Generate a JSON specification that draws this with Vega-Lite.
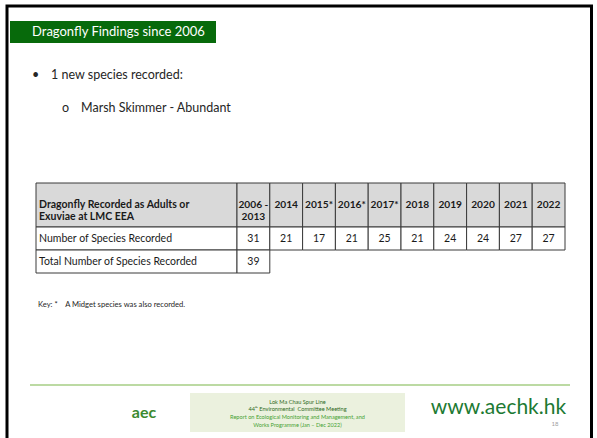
{
  "$schema": "https://vega.github.io/schema/vega-lite/v6.json",
  "width": 597,
  "height": 438,
  "padding": 0,
  "autosize": {"type": "fit", "contains": "padding"},
  "background": "white",
  "config": {"view": {"stroke": null}, "font": "Lato", "text": {"font": "Lato"}},
  "datasets": {
    "slide": [{"part": "slide"}],
    "heading": [{"title": "Dragonfly Findings since 2006"}],
    "bullets": [
      {"level": "1", "marker": "•", "text": "1 new species recorded:"},
      {"level": "2", "marker": "o", "text": "Marsh Skimmer - Abundant"}
    ],
    "corner": [{"heading": "Dragonfly Recorded as Adults or\nExuviae at LMC EEA"}],
    "columns": [
      {"period": "2006 - 2013", "heading": "2006 -\n2013"},
      {"period": "2014", "heading": "2014"},
      {"period": "2015", "heading": "2015*"},
      {"period": "2016", "heading": "2016*"},
      {"period": "2017", "heading": "2017*"},
      {"period": "2018", "heading": "2018"},
      {"period": "2019", "heading": "2019"},
      {"period": "2020", "heading": "2020"},
      {"period": "2021", "heading": "2021"},
      {"period": "2022", "heading": "2022"}
    ],
    "cells": [
      {"metric": "Number of Species Recorded", "period": "2006 - 2013", "count": 31},
      {"metric": "Number of Species Recorded", "period": "2014", "count": 21},
      {"metric": "Number of Species Recorded", "period": "2015", "count": 17},
      {"metric": "Number of Species Recorded", "period": "2016", "count": 21},
      {"metric": "Number of Species Recorded", "period": "2017", "count": 25},
      {"metric": "Number of Species Recorded", "period": "2018", "count": 21},
      {"metric": "Number of Species Recorded", "period": "2019", "count": 24},
      {"metric": "Number of Species Recorded", "period": "2020", "count": 24},
      {"metric": "Number of Species Recorded", "period": "2021", "count": 27},
      {"metric": "Number of Species Recorded", "period": "2022", "count": 27},
      {"metric": "Total Number of Species Recorded", "period": "2006 - 2013", "count": 39}
    ],
    "key": [{"note": "Key: *\u00a0\u00a0\u00a0\u00a0A Midget species was also recorded."}],
    "footer": [
      {"line": "Lok Ma Chau Spur Line", "part": "project"},
      {"line": "44ᵗʰ Environmental\u00a0 Committee Meeting", "part": "project"},
      {"line": "Report on Ecological Monitoring and Management, and", "part": "report"},
      {"line": "Works Programme (Jan – Dec 2022)", "part": "report"}
    ],
    "brand": [{"site": "www.aechk.hk", "page": "18", "logo": "aec"}]
  },
  "layer": [
    {
      "data": {"name": "slide"},
      "mark": {"type": "rect", "fillOpacity": 0, "stroke": "#000000", "strokeWidth": 3},
      "encoding": {
        "x": {"field": "part", "type": "nominal", "axis": null, "scale": {"range": [7, 591.5], "paddingInner": 0, "paddingOuter": 0}},
        "y": {"field": "part", "type": "nominal", "axis": null, "scale": {"range": [6, 480], "paddingInner": 0, "paddingOuter": 0}}
      }
    },
    {
      "data": {"name": "heading"},
      "layer": [
        {
          "mark": {"type": "rect", "fill": "#076a0b"},
          "encoding": {
            "x": {"field": "title", "type": "nominal", "axis": null, "scale": {"range": [10, 216], "paddingInner": 0, "paddingOuter": 0}},
            "y": {"field": "title", "type": "nominal", "axis": null, "scale": {"range": [21, 43], "paddingInner": 0, "paddingOuter": 0}}
          }
        },
        {
          "mark": {"type": "text", "align": "left", "baseline": "middle", "dx": 22, "fontSize": 13, "fill": "#ffffff"},
          "encoding": {
            "x": {"field": "title", "type": "nominal", "axis": null, "bandPosition": 0, "scale": {"range": [10, 216], "paddingInner": 0, "paddingOuter": 0}},
            "y": {"field": "title", "type": "nominal", "axis": null, "bandPosition": 0.5, "scale": {"range": [21, 43], "paddingInner": 0, "paddingOuter": 0}},
            "text": {"field": "title"}
          }
        }
      ]
    },
    {
      "data": {"name": "bullets"},
      "mark": {"type": "text", "align": "left", "baseline": "middle", "fontSize": 12.5, "fill": "#262626"},
      "encoding": {
        "x": {"field": "level", "type": "ordinal", "axis": null, "scale": {"type": "point", "range": [32, 62], "padding": 0}},
        "y": {"field": "level", "type": "ordinal", "axis": null, "scale": {"type": "point", "range": [75, 108], "padding": 0}},
        "text": {"field": "marker"}
      }
    },
    {
      "data": {"name": "bullets"},
      "mark": {"type": "text", "align": "left", "baseline": "middle", "fontSize": 12.5, "fill": "#262626"},
      "encoding": {
        "x": {"field": "level", "type": "ordinal", "axis": null, "scale": {"type": "point", "range": [51, 81], "padding": 0}},
        "y": {"field": "level", "type": "ordinal", "axis": null, "scale": {"type": "point", "range": [75, 108], "padding": 0}},
        "text": {"field": "text"}
      }
    },
    {
      "data": {"name": "corner"},
      "layer": [
        {
          "mark": {"type": "rect", "fill": "#d9d9d9", "stroke": "#3a3a3a", "strokeWidth": 1},
          "encoding": {
            "x": {"field": "heading", "type": "nominal", "axis": null, "scale": {"range": [36, 237], "paddingInner": 0, "paddingOuter": 0}},
            "y": {"field": "heading", "type": "nominal", "axis": null, "scale": {"range": [183, 227], "paddingInner": 0, "paddingOuter": 0}}
          }
        },
        {
          "mark": {"type": "text", "align": "left", "baseline": "middle", "dx": 3, "fontSize": 10.5, "fontWeight": "bold", "lineBreak": "\n", "lineHeight": 12, "fill": "#1a1a1a"},
          "encoding": {
            "x": {"field": "heading", "type": "nominal", "axis": null, "bandPosition": 0, "scale": {"range": [36, 237], "paddingInner": 0, "paddingOuter": 0}},
            "y": {"field": "heading", "type": "nominal", "axis": null, "bandPosition": 0.5, "scale": {"range": [183, 227], "paddingInner": 0, "paddingOuter": 0}},
            "text": {"field": "heading"}
          }
        }
      ]
    },
    {
      "data": {"name": "columns"},
      "layer": [
        {
          "mark": {"type": "rect", "fill": "#d9d9d9", "stroke": "#3a3a3a", "strokeWidth": 1},
          "encoding": {
            "x": {"field": "period", "type": "nominal", "sort": null, "axis": null, "scale": {"range": [237, 565], "paddingInner": 0, "paddingOuter": 0}},
            "y": {"datum": "header", "type": "nominal", "axis": null, "scale": {"range": [183, 227], "paddingInner": 0, "paddingOuter": 0}}
          }
        },
        {
          "mark": {"type": "text", "align": "center", "baseline": "middle", "fontSize": 10.2, "fontWeight": "bold", "lineBreak": "\n", "lineHeight": 12, "fill": "#1a1a1a"},
          "encoding": {
            "x": {"field": "period", "type": "nominal", "sort": null, "axis": null, "bandPosition": 0.5, "scale": {"range": [237, 565], "paddingInner": 0, "paddingOuter": 0}},
            "y": {"datum": "header", "type": "nominal", "axis": null, "bandPosition": 0.5, "scale": {"range": [183, 227], "paddingInner": 0, "paddingOuter": 0}},
            "text": {"field": "heading"}
          }
        }
      ]
    },
    {
      "data": {"name": "cells"},
      "transform": [{"filter": "datum.period === '2006 - 2013'"}],
      "layer": [
        {
          "mark": {"type": "rect", "fill": "#ffffff", "stroke": "#3a3a3a", "strokeWidth": 1},
          "encoding": {
            "x": {"datum": "metric", "type": "nominal", "axis": null, "scale": {"range": [36, 237], "paddingInner": 0, "paddingOuter": 0}},
            "y": {"field": "metric", "type": "nominal", "sort": null, "axis": null, "scale": {"range": [227, 273], "paddingInner": 0, "paddingOuter": 0}}
          }
        },
        {
          "mark": {"type": "text", "align": "left", "baseline": "middle", "dx": 3, "fontSize": 10.5, "fill": "#1a1a1a"},
          "encoding": {
            "x": {"datum": "metric", "type": "nominal", "axis": null, "bandPosition": 0, "scale": {"range": [36, 237], "paddingInner": 0, "paddingOuter": 0}},
            "y": {"field": "metric", "type": "nominal", "sort": null, "axis": null, "bandPosition": 0.5, "scale": {"range": [227, 273], "paddingInner": 0, "paddingOuter": 0}},
            "text": {"field": "metric"}
          }
        }
      ]
    },
    {
      "data": {"name": "cells"},
      "layer": [
        {
          "mark": {"type": "rect", "fill": "#ffffff", "stroke": "#3a3a3a", "strokeWidth": 1},
          "encoding": {
            "x": {"field": "period", "type": "nominal", "sort": null, "axis": null, "scale": {"range": [237, 565], "paddingInner": 0, "paddingOuter": 0}},
            "y": {"field": "metric", "type": "nominal", "sort": null, "axis": null, "scale": {"range": [227, 273], "paddingInner": 0, "paddingOuter": 0}}
          }
        },
        {
          "mark": {"type": "text", "align": "center", "baseline": "middle", "fontSize": 10.5, "fill": "#1a1a1a"},
          "encoding": {
            "x": {"field": "period", "type": "nominal", "sort": null, "axis": null, "bandPosition": 0.5, "scale": {"range": [237, 565], "paddingInner": 0, "paddingOuter": 0}},
            "y": {"field": "metric", "type": "nominal", "sort": null, "axis": null, "bandPosition": 0.5, "scale": {"range": [227, 273], "paddingInner": 0, "paddingOuter": 0}},
            "text": {"field": "count", "type": "quantitative"}
          }
        }
      ]
    },
    {
      "data": {"name": "key"},
      "mark": {"type": "text", "align": "left", "baseline": "middle", "fontSize": 7.6, "fill": "#262626"},
      "encoding": {
        "x": {"field": "note", "type": "nominal", "axis": null, "scale": {"type": "point", "range": [38, 38], "padding": 0}},
        "y": {"field": "note", "type": "nominal", "axis": null, "scale": {"type": "point", "range": [305, 305], "padding": 0}},
        "text": {"field": "note"}
      }
    },
    {
      "data": {"name": "brand"},
      "mark": {"type": "rect", "fill": "#7ab648"},
      "encoding": {
        "x": {"datum": "rule", "type": "nominal", "axis": null, "scale": {"range": [30, 570], "paddingInner": 0, "paddingOuter": 0}},
        "y": {"datum": "rule", "type": "nominal", "axis": null, "scale": {"range": [384.4, 385.6], "paddingInner": 0, "paddingOuter": 0}}
      }
    },
    {
      "data": {"name": "brand"},
      "mark": {"type": "rect", "fill": "#ebf1de"},
      "encoding": {
        "x": {"datum": "box", "type": "nominal", "axis": null, "scale": {"range": [190, 405], "paddingInner": 0, "paddingOuter": 0}},
        "y": {"datum": "box", "type": "nominal", "axis": null, "scale": {"range": [393, 432], "paddingInner": 0, "paddingOuter": 0}}
      }
    },
    {
      "data": {"name": "footer"},
      "mark": {"type": "text", "align": "center", "baseline": "middle", "fontSize": 5.6},
      "encoding": {
        "x": {"datum": "box", "type": "nominal", "axis": null, "bandPosition": 0.5, "scale": {"range": [190, 405], "paddingInner": 0, "paddingOuter": 0}},
        "y": {"field": "line", "type": "ordinal", "sort": null, "axis": null, "scale": {"type": "point", "range": [401.5, 424.5], "padding": 0}},
        "color": {"field": "part", "type": "nominal", "legend": null, "scale": {"domain": ["project", "report"], "range": ["#2e6a22", "#45a232"]}},
        "text": {"field": "line"}
      }
    },
    {
      "data": {"name": "brand"},
      "mark": {"type": "text", "align": "center", "baseline": "middle", "fontSize": 21, "fill": "#1d7a33"},
      "encoding": {
        "x": {"field": "site", "type": "nominal", "axis": null, "bandPosition": 0.5, "scale": {"range": [430, 567], "paddingInner": 0, "paddingOuter": 0}},
        "y": {"field": "site", "type": "nominal", "axis": null, "bandPosition": 0.5, "scale": {"range": [397, 419], "paddingInner": 0, "paddingOuter": 0}},
        "text": {"field": "site"}
      }
    },
    {
      "data": {"name": "brand"},
      "mark": {"type": "text", "align": "center", "baseline": "middle", "fontSize": 6, "fill": "#a0a0a0"},
      "encoding": {
        "x": {"field": "page", "type": "nominal", "axis": null, "bandPosition": 0.5, "scale": {"range": [550, 560], "paddingInner": 0, "paddingOuter": 0}},
        "y": {"field": "page", "type": "nominal", "axis": null, "bandPosition": 0.5, "scale": {"range": [419, 429], "paddingInner": 0, "paddingOuter": 0}},
        "text": {"field": "page"}
      }
    },
    {
      "data": {"name": "brand"},
      "mark": {"type": "text", "align": "center", "baseline": "middle", "fontSize": 16, "fontWeight": "bold", "fill": "#3b8a2f"},
      "encoding": {
        "x": {"field": "logo", "type": "nominal", "axis": null, "bandPosition": 0.5, "scale": {"range": [127, 161], "paddingInner": 0, "paddingOuter": 0}},
        "y": {"field": "logo", "type": "nominal", "axis": null, "bandPosition": 0.5, "scale": {"range": [404, 422], "paddingInner": 0, "paddingOuter": 0}},
        "text": {"field": "logo"}
      }
    }
  ],
  "resolve": {"scale": {"x": "independent", "y": "independent", "color": "independent"}}
}
